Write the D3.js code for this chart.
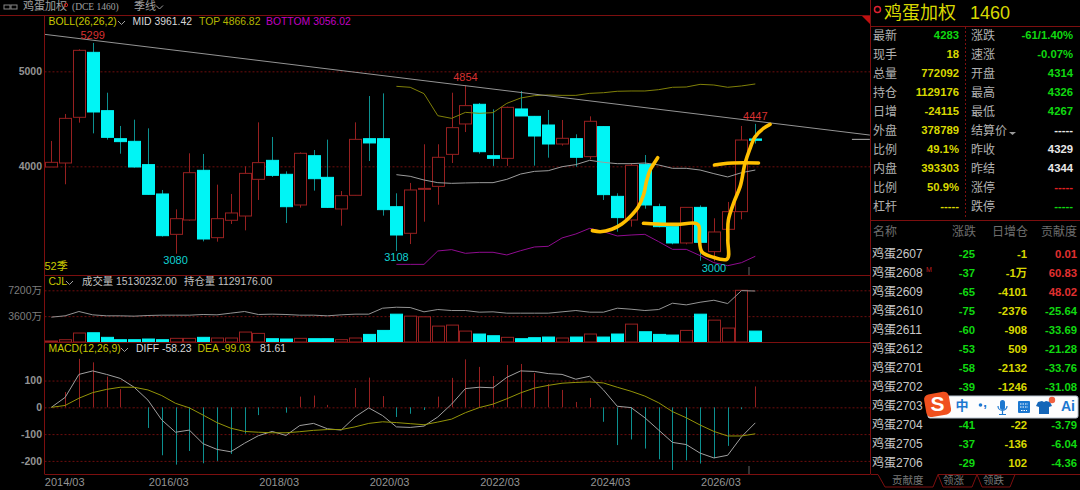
<!DOCTYPE html>
<html><head><meta charset="utf-8">
<script src="https://cdn.jsdelivr.net/npm/d3@7"></script>
<style>html,body{margin:0;background:#000;overflow:hidden}svg{display:block}text{font-family:"Liberation Sans","Noto Sans CJK SC",sans-serif}</style>
</head><body><svg id="c" width="1080" height="490"></svg>
<script>
const candleOpen=[3993,4035,4516,5200,4586,4291,4263,4018,3709,3284,3435,3958,3249,3432,3477,3863,4063,3916,3593,4112,3884,3551,3695,4291,4291,3575,3295,3762,3789,4126,4446,4653,4112,4084,4604,4526,4435,4235,4291,4102,4418,3684,3435,4021,3575,3365,3193,3568,3102,3337,3523,4288];
const candleClose=[4042,4505,5221,4572,4305,4260,3993,3705,3270,3449,3933,3235,3449,3509,3926,4039,3905,3575,4137,3870,3568,3691,4284,4246,3544,3277,3751,3768,4095,4407,4639,4154,4084,4621,4530,4319,4235,4295,4095,4474,3702,3460,4011,3593,3365,3193,3568,3200,3309,3523,4277,4274];
const candleHigh=[4267,4551,5232,5299,4775,4425,4491,4400,3751,3547,4137,4130,3807,3709,4000,4463,4309,3947,4147,4172,4281,3740,4463,4740,4768,3716,3825,4232,4232,4775,4854,4667,4600,4628,4793,4530,4593,4488,4337,4526,4421,3716,4032,4119,3607,3365,3568,3589,3453,3625,4425,4447];
const candleLow=[3993,3811,4460,4347,4281,4133,3986,3702,3260,3080,3428,3210,3207,3393,3326,3646,3888,3403,3565,3744,3561,3375,3695,4056,3481,3108,3182,3417,3596,4035,4361,4133,4004,4004,4530,4007,4091,4218,3996,4074,3646,3312,3365,3554,3358,3179,3179,3007,3000,3330,3442,4240];
const bollTop=[4842,4832,4765,4533,4505,4568,4558,4565,4663,4719,4744,4751,4747,4747,4768,4775,4790,4793,4793,4807,4832,4835,4863,4856,4832,4846,4867];
const bollMid=[3912,3895,3856,3828,3821,3825,3828,3828,3863,3919,3947,3954,3996,4018,4063,4042,4028,4028,4035,4014,3979,3979,3961,3923,3888,3933,3961];
const bollBottom=[2968,2968,2968,3109,3123,3084,3095,3095,3067,3112,3151,3158,3246,3288,3347,3312,3267,3277,3284,3207,3126,3126,3060,2986,2954,2986,3053];
const bollStart=25;
const volume=[140,320,1250,1290,650,320,320,415,320,510,510,650,555,555,1385,1200,460,415,510,460,460,320,555,1060,1615,3875,3600,3510,2215,2355,1520,1110,875,650,460,600,690,555,690,1110,690,1110,2490,1430,1060,970,1615,3875,3045,1940,7200,1520];
const volumeMA=[3461,3646,4246,3784,3646,3646,3600,3692,3738,3738,3738,3830,3784,4015,4246,3830,3877,3830,3738,3738,3646,3784,3877,3877,4707,4846,4800,4200,4523,4384,4384,4153,4200,4015,4015,4015,4015,4200,4384,4153,4153,4707,4569,4384,4523,5400,5169,5538,5815,5354,7150,7100];
const macdDiff=[0,37,123,136,123,108,75,27,-47,-93,-85,-136,-157,-166,-134,-106,-90,-105,-68,-60,-80,-85,-36,-2,-31,-73,-75,-70,-36,12,70,75,73,112,136,134,126,123,105,116,65,4,-1,-39,-85,-131,-139,-171,-189,-179,-110,-58];
const macdDea=[0,7,34,55,67,75,75,65,44,15,-2,-29,-57,-78,-90,-93,-95,-95,-91,-86,-83,-83,-73,-60,-54,-57,-61,-65,-55,-44,-20,-1,12,32,54,72,82,90,93,95,91,75,60,42,17,-16,-39,-66,-90,-107,-107,-99];
const macdHist=[0,57,181,168,115,68,1,-77,-179,-214,-163,-209,-200,-174,-98,-29,-1,-20,40,44,9,0,72,111,42,-36,-24,-10,40,110,179,151,117,158,162,128,87,65,20,35,-54,-141,-120,-154,-194,-234,-198,-210,-190,-144,-7,78];
const dateTicks=[0.46,8,16,24,32,40,48];
const dateLabels=["2014/03","2016/03","2018/03","2020/03","2022/03","2024/03","2026/03"];
const priceTicks=[5000,4000];
const volTicks=[7200,3600];
const macdTicks=[100,0,-100,-200];
const highMarks=[[3,5299],[30,4854],[51,4447]];
const lowMarks=[[9,3080],[25,3108],[48,3000]];
const trendLine=[[-0.46,5389],[59.3,4329]];
const lastPriceLine=[[58,4284],[59.3,4284]];
const scribble1=[[39.2,3323],[39.76,3312],[40.6,3337],[41.33,3393],[41.93,3470],[42.53,3575],[42.9,3698],[43.14,3856],[43.38,3961],[43.67,4032],[43.93,4091]];
const scribble2=[[42.9,3400],[43.86,3393],[45.31,3389],[46.88,3382],[46.95,3225],[47.12,3102],[47.97,3042],[48.93,3021],[49.01,3225],[49.05,3435],[49.42,3610],[49.9,3786],[50.26,4032],[50.58,4172],[50.99,4312],[51.59,4400],[52.07,4442]];
const scribble3=[[48.04,4014],[48.69,4028],[51.23,4035]];
const statLabelsL=["最新","现手","总量","持仓","日增","外盘","比例","内盘","比例","杠杆"];
const statValuesL=["4283","18","772092","1129176","-24115","378789","49.1%","393303","50.9%","-----"];
const statLabelsR=["涨跌","速涨","开盘","最高","最低","结算价","昨收","昨结","涨停","跌停"];
const statValuesR=["-61/1.40%","-0.07%","4314","4326","4267","-----","4329","4344","-----","-----"];
const contractNames=["鸡蛋2607","鸡蛋2608","鸡蛋2609","鸡蛋2610","鸡蛋2611","鸡蛋2612","鸡蛋2701","鸡蛋2702","鸡蛋2703","鸡蛋2704","鸡蛋2705","鸡蛋2706"];
const contractChange=["-25","-37","-65","-75","-60","-53","-58","-39","","-41","-37","-29"];
const contractOI=["-1","-1万","-4101","-2376","-908","509","-2132","-1246","","-22","-136","102"];
const contractShare=["0.01","60.83","48.02","-25.64","-33.69","-21.28","-33.76","-31.08","","-3.79","-6.04","-4.36"];

const svg=d3.select("#c");
const RED="#962020",CY="#00f5f5",TEAL="#0c9090",FRAME="#7c0f0f",GRID="#6e0e0e",GREY="#939393";
const GREEN="#10d810",YEL="#d8d800";
const HS=10.4;
const L=44.5,R=870.5;
const x=d3.scaleLinear().domain([0,51]).range([51.3,755.3]);
const y=d3.scaleLinear().domain([2856,5593]).range([275,15]);
const yv=d3.scaleLinear().domain([0,9331]).range([342,275]);
const ym=d3.scaleLinear().domain([-249,244]).range([474,342]);
svg.append("rect").attr("width",1080).attr("height",490).attr("fill","#000");

function txt(g,s,px,py,o={}){return g.append("text").attr("x",px).attr("y",py).text(s)
 .attr("fill",o.c||GREY).attr("font-size",o.s||11).attr("font-weight",o.w||"normal")
 .attr("text-anchor",o.a||"start").attr("dominant-baseline","middle");}
function grid(ticks,sc){svg.append("g").selectAll("line").data(ticks).join("line")
 .attr("x1",L).attr("x2",R).attr("y1",d=>sc(d)+.5).attr("y2",d=>sc(d)+.5)
 .attr("stroke",GRID).attr("stroke-dasharray","2,2");}
grid(priceTicks,y);grid(volTicks,yv);grid(macdTicks,ym);

// axes
function yAxis(sc,ticks,fmt,weight,col){const g=svg.append("g").attr("transform",`translate(${L-2.5},0)`)
 .call(d3.axisLeft(sc).tickValues(ticks).tickSize(0).tickPadding(0).tickFormat(fmt));
 g.select(".domain").remove();
 g.selectAll("text").attr("fill",col).attr("font-size",10.5).attr("font-weight",weight)
  .style("font-family",'"Liberation Sans","Noto Sans CJK SC",sans-serif');}
yAxis(y,priceTicks,d=>d,"bold",GREY);yAxis(yv,volTicks,d=>d+"万","normal","#7d7d7d");yAxis(ym,macdTicks,d=>d,"bold",GREY);
const xa=svg.append("g").attr("transform","translate(0,475)")
 .call(d3.axisBottom(x).tickValues(dateTicks).tickSize(0).tickPadding(3).tickFormat((d,i)=>dateLabels[i]));
xa.select(".domain").remove();
xa.selectAll("text").attr("fill",GREY).attr("font-size",11).attr("dx",6.5)
 .style("font-family",'"Liberation Sans",sans-serif');

// candles
const idx=d3.range(candleOpen.length);
const isUp=i=>candleClose[i]>=candleOpen[i];
const wicks=svg.append("g");
wicks.selectAll("line").data(idx).join("line")
 .attr("x1",i=>Math.round(x(i))+.5).attr("x2",i=>Math.round(x(i))+.5)
 .attr("y1",i=>y(candleHigh[i])).attr("y2",i=>y(candleLow[i]))
 .attr("stroke",i=>isUp(i)?RED:TEAL);
svg.append("g").selectAll("rect").data(idx).join("rect")
 .attr("x",i=>Math.round(x(i))-5.5).attr("width",12)
 .attr("y",i=>y(Math.max(candleOpen[i],candleClose[i])))
 .attr("height",i=>Math.max(1,Math.abs(y(candleOpen[i])-y(candleClose[i]))))
 .attr("fill",i=>isUp(i)?"#000":CY).attr("stroke",i=>isUp(i)?RED:CY);

// BOLL
const lineI=(xo,sc)=>d3.line().x((d,i)=>x(i+xo)).y(d=>sc(d));
function path(g,d,c,w){return g.append("path").attr("d",d).attr("fill","none").attr("stroke",c).attr("stroke-width",w||1);}
path(svg,lineI(bollStart,y)(bollTop),"#808008");
path(svg,lineI(bollStart,y)(bollMid),"#9c9c9c");
path(svg,lineI(bollStart,y)(bollBottom),"#900c90");
const ptLine=d3.line().x(d=>x(d[0])).y(d=>y(d[1]));
path(svg,ptLine(trendLine),"#949494");
path(svg,ptLine(lastPriceLine),"#b0b0b0");

// high/low labels
svg.append("g").selectAll("text").data(highMarks).join("text").text(d=>d[1])
 .attr("x",d=>x(d[0])).attr("y",d=>y(d[1])-7).attr("text-anchor","middle").attr("dominant-baseline","middle")
 .attr("fill","#d83030").attr("font-size",11);
svg.append("g").selectAll("text").data(lowMarks).join("text").text(d=>d[1])
 .attr("x",d=>x(d[0])).attr("y",d=>y(d[1])+7.5).attr("text-anchor","middle").attr("dominant-baseline","middle")
 .attr("fill","#10d0d0").attr("font-size",11);

// volume
svg.append("g").selectAll("rect").data(idx).join("rect")
 .attr("x",i=>Math.round(x(i))-5.5).attr("width",12)
 .attr("y",i=>yv(volume[i])).attr("height",i=>yv(0)-yv(volume[i]))
 .attr("fill",i=>isUp(i)?"#000":CY).attr("stroke",i=>isUp(i)?RED:CY);
path(svg,lineI(0,yv)(volumeMA),"#949494");

// MACD
svg.append("g").selectAll("line").data(idx).join("line")
 .attr("x1",i=>Math.round(x(i))+.5).attr("x2",i=>Math.round(x(i))+.5)
 .attr("y1",ym(0)).attr("y2",i=>ym(macdHist[i]))
 .attr("stroke",i=>macdHist[i]>=0?RED:TEAL);
path(svg,lineI(0,ym)(macdDiff),"#a0a0a0");
path(svg,lineI(0,ym)(macdDea),"#949408");

// scribbles
const curve=d3.line().x(d=>x(d[0])).y(d=>y(d[1])).curve(d3.curveCatmullRom.alpha(1));
[scribble1,scribble2,scribble3].forEach(s=>path(svg,curve(s),"#ffbf00",3.6).attr("stroke-linecap","round").attr("stroke-linejoin","round"));

// frames
const fr=svg.append("g").attr("stroke",FRAME).attr("fill","none");
[15.5,275.5,342.5,474.5].forEach(v=>fr.append("line").attr("x1",v==15.5?0:L).attr("x2",v==15.5?870:R).attr("y1",v).attr("y2",v));
fr.append("line").attr("x1",L).attr("x2",L).attr("y1",15).attr("y2",474);
fr.append("line").attr("x1",R).attr("x2",R).attr("y1",0).attr("y2",474);
svg.append("path").attr("d","M862,16H870V24Z").attr("fill","#c01010");
svg.append("line").attr("x1",749).attr("x2",749).attr("y1",267).attr("y2",275).attr("stroke","#666");
svg.append("line").attr("x1",749).attr("x2",749).attr("y1",466).attr("y2",474).attr("stroke","#666");

// headers
const h=svg.append("g");
h.append("rect").attr("x",4).attr("y",5).attr("width",6).attr("height",4).attr("fill","none").attr("stroke","#888");
h.append("rect").attr("x",11).attr("y",5).attr("width",6).attr("height",4).attr("fill","none").attr("stroke","#888");
txt(h,"鸡蛋加权",23,7.5,{s:11,c:"#a0a0a0"});
h.append("circle").attr("cx",66).attr("cy",5).attr("r",1.7).attr("fill","none").attr("stroke","#c02020");
txt(h,"(DCE  1460)",72,8,{s:9.5,c:"#a0a0a0"}).style("font-family",'"Liberation Serif",serif');
txt(h,"季线",134,7.5,{s:11,c:"#a0a0a0"});
const chev=(px,py,c)=>h.append("path").attr("d",`M${px},${py}l3.5,3.5l3.5,-3.5`).attr("fill","none").attr("stroke",c);
chev(156,5.5,"#a0a0a0");
txt(h,"BOLL(26,26,2)",48.5,22.5,{c:"#c8c800",s:HS});
chev(118,21,"#a0a0a0");
txt(h,"MID 3961.42",132.5,22.5,{c:"#d8d8d8",s:HS});
txt(h,"TOP 4866.82",199,22.5,{c:"#b4b400",s:HS});
txt(h,"BOTTOM 3056.02",266,22.5,{c:"#c000c0",s:HS});
txt(h,"52季",44.5,267.5,{c:"#c8c800",s:11});
txt(h,"CJL",48.5,282.5,{c:"#c8c800",s:HS});
chev(66,281,"#a0a0a0");
txt(h,"成交量 15130232.00",82,282.5,{c:"#c0c0c0",s:HS});
txt(h,"持仓量 1129176.00",184,282.5,{c:"#c0c0c0",s:HS});
txt(h,"MACD(12,26,9)",48.5,349.5,{c:"#c8c800",s:HS});
chev(121,348,"#a0a0a0");
txt(h,"DIFF -58.23",136,349.5,{c:"#d8d8d8",s:HS});
txt(h,"DEA -99.03",197.5,349.5,{c:"#c8c800",s:HS});
txt(h,"81.61",260,349.5,{c:"#d8d8d8",s:HS});

// sidebar
const s=svg.append("g");
s.append("circle").attr("cx",877.5).attr("cy",9.5).attr("r",3).attr("fill","none").attr("stroke","#e02030").attr("stroke-width",1.5);
txt(s,"鸡蛋加权",884,14.5,{c:"#d8d800",s:18});
txt(s,"1460",970,14.5,{c:"#d8d800",s:18});
s.append("line").attr("x1",R).attr("x2",1080).attr("y1",26.5).attr("y2",26.5).attr("stroke",FRAME);
s.append("line").attr("x1",R).attr("x2",1080).attr("y1",220.5).attr("y2",220.5).attr("stroke",FRAME);
s.append("line").attr("x1",965.5).attr("x2",965.5).attr("y1",27).attr("y2",218).attr("stroke",FRAME).attr("stroke-dasharray","2,2");
const rowY=i=>36+i*19;
statLabelsL.forEach((t,i)=>{txt(s,t,873,rowY(i)+.5,{s:12,c:"#b0b0b0"});
 txt(s,statValuesL[i],959,rowY(i),{s:11.3,w:"bold",a:"end",c:i==0?GREEN:YEL});});
const rColor=i=>i<5?GREEN:i==8?"#e02020":i==9?GREEN:"#e8e8e8";
statLabelsR.forEach((t,i)=>{txt(s,t,971,rowY(i)+.5,{s:12,c:"#b0b0b0"});
 txt(s,statValuesR[i],1073,rowY(i),{s:11.3,w:"bold",a:"end",c:rColor(i)});});
s.append("path").attr("d","M1009,132h7l-3.5,3Z").attr("fill","#999");
txt(s,"名称",873,233,{s:12,c:"#6e6e6e"});
txt(s,"涨跌",976,233,{s:12,c:"#6e6e6e",a:"end"});
txt(s,"日增仓",1028,233,{s:12,c:"#6e6e6e",a:"end"});
txt(s,"贡献度",1077,233,{s:12,c:"#6e6e6e",a:"end"});
const tRow=i=>255+i*18.95;
contractNames.forEach((t,i)=>{txt(s,t,872,tRow(i),{s:12,c:"#c8c8c8"});
 txt(s,contractChange[i],975,tRow(i)+.5,{s:11.3,w:"bold",a:"end",c:GREEN});
 txt(s,contractOI[i],1027,tRow(i)+.5,{s:11.3,w:"bold",a:"end",c:YEL});
 const v=contractShare[i];
 txt(s,v,1077,tRow(i)+.5,{s:11.3,w:"bold",a:"end",c:v.startsWith("-")?GREEN:"#e03030"});});
txt(s,"M",926,270.5,{s:7,c:"#c02020"});
// tabs
s.append("path").attr("d","M871,474.5H878L885,487H933L938,474.5H1080M938,474.5L943,487H972L977,474.5L982,487H1010L1015,474.5").attr("fill","none").attr("stroke",FRAME);
txt(s,"贡献度",892,481,{s:10.5,c:"#777"});
txt(s,"领涨",943,481,{s:10.5,c:"#777"});
txt(s,"领跌",983,481,{s:10.5,c:"#777"});

// input-method toolbar
const w=svg.append("g");
w.append("rect").attr("x",928).attr("y",396).attr("width",150).attr("height",22).attr("rx",2).attr("fill","#fdfdfd").attr("stroke","#b8c4d0");
w.append("rect").attr("x",925).attr("y",393).attr("width",25).attr("height",23).attr("rx",5).attr("fill","#f0501e").attr("transform","rotate(-10 937 404)");
txt(w,"S",937.5,405,{s:21,w:"bold",c:"#fff",a:"middle"});
const BL="#1c78d0";
txt(w,"中",962,407,{s:13,w:"bold",c:BL,a:"middle"});
w.append("circle").attr("cx",980.5).attr("cy",405).attr("r",1.8).attr("fill",BL);
txt(w,",",985,404,{s:13,w:"bold",c:BL,a:"middle"});
w.append("rect").attr("x",1000).attr("y",400).attr("width",5).attr("height",10).attr("rx",2.5).attr("fill",BL);
w.append("path").attr("d","M998,406a4.5,4.5 0 0 0 9,0M1002.5,411v3M999,414.5h7").attr("fill","none").attr("stroke",BL).attr("stroke-width",1.2);
w.append("rect").attr("x",1018).attr("y",401).attr("width",12).attr("height",12).attr("rx",1).attr("fill",BL);
w.append("path").attr("d","M1020,404h8M1020,407h8M1021,410.5h6").attr("stroke","#fff").attr("stroke-dasharray","1.5,1").attr("stroke-width",1.2);
w.append("path").attr("d","M1038,402l4,-1l2,1l2,-1l4,1l2,4l-3,1v7h-10v-7l-3,-1Z").attr("fill","#1566b8");
w.append("circle").attr("cx",1052).attr("cy",400).attr("r",3.2).attr("fill","#f06040");
txt(w,"Ai",1068,407,{s:14,w:"bold",c:BL,a:"middle"});
</script></body></html>
